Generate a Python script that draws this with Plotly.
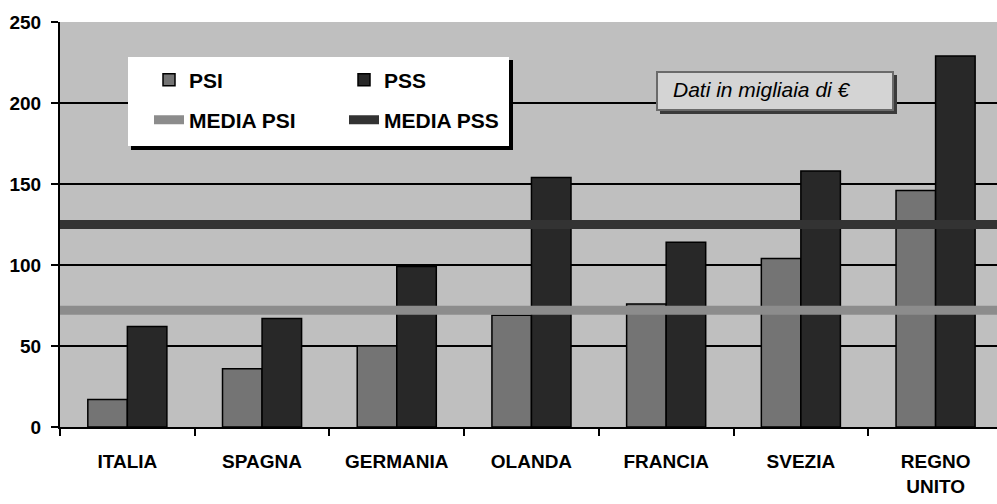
import plotly.graph_objects as go

categories = ["ITALIA", "SPAGNA", "GERMANIA", "OLANDA", "FRANCIA", "SVEZIA", "REGNO<br>UNITO"]
psi = [17, 36, 50, 69, 76, 104, 146]
pss = [62, 67, 99, 154, 114, 158, 229]
media_psi = 72
media_pss = 125
y_ticks = [0, 50, 100, 150, 200, 250]

W, H = 997, 504
L, R, T, B = 60, 0, 22, 77
PW, PH = W - L - R, H - T - B

def px_x(x):
    return (x - L) / PW

def px_y(y):
    return (H - B - y) / PH

fig = go.Figure()
fig.add_trace(go.Bar(x=categories, y=psi, name="PSI", marker=dict(color="#747474", line=dict(color="#000000", width=1.5)), legend="legend"))
fig.add_trace(go.Bar(x=categories, y=pss, name="PSS", marker=dict(color="#282828", line=dict(color="#000000", width=1.5)), legend="legend"))
fig.add_trace(go.Scatter(x=[0, 1], y=[media_psi, media_psi], xaxis="x2", mode="lines", name="MEDIA PSI",
                         line=dict(color="#8c8c8c", width=9), legend="legend2", hoverinfo="skip"))
fig.add_trace(go.Scatter(x=[0, 1], y=[media_pss, media_pss], xaxis="x2", mode="lines", name="MEDIA PSS",
                         line=dict(color="#333333", width=9), legend="legend2", hoverinfo="skip"))

shapes = []
# legend box shadow + box
lx0, lx1, ly0, ly1 = 128, 509, 57, 146
shapes.append(dict(type="rect", xref="paper", yref="paper", x0=px_x(lx0 + 3), x1=px_x(lx1 + 4), y0=px_y(ly1 + 4), y1=px_y(ly0 + 3),
                   fillcolor="#000000", line=dict(width=0), layer="above"))
shapes.append(dict(type="rect", xref="paper", yref="paper", x0=px_x(lx0), x1=px_x(lx1), y0=px_y(ly1), y1=px_y(ly0),
                   fillcolor="#ffffff", line=dict(width=0), layer="above"))
# note box shadow + box
nx0, nx1, ny0, ny1 = 657, 893, 72, 110
shapes.append(dict(type="rect", xref="paper", yref="paper", x0=px_x(nx0 + 3), x1=px_x(nx1 + 4), y0=px_y(ny1 + 4), y1=px_y(ny0 + 3),
                   fillcolor="#3a3a3a", line=dict(width=0), layer="above"))
shapes.append(dict(type="rect", xref="paper", yref="paper", x0=px_x(nx0), x1=px_x(nx1), y0=px_y(ny1), y1=px_y(ny0),
                   fillcolor="#d4d4d4", line=dict(color="#6a6a6a", width=2), layer="above"))

fig.update_layout(
    width=W, height=H,
    margin=dict(l=L, r=R, t=T, b=B, pad=0),
    paper_bgcolor="#ffffff",
    plot_bgcolor="#bfbfbf",
    barmode="group", bargap=0.413, bargroupgap=0,
    font=dict(family="Liberation Sans, Arial, sans-serif", color="#000000", weight="bold"),
    shapes=shapes,
    annotations=[dict(text="<i>Dati in migliaia di €</i>", xref="paper", yref="paper", x=px_x(762), y=px_y(90),
                      xanchor="center", yanchor="middle", showarrow=False,
                      font=dict(family="Liberation Sans, Arial, sans-serif", size=21, color="#000000", weight="normal"))],
    xaxis=dict(range=[-0.5, 6.456], tickson="boundaries", ticks="outside", ticklen=7, tickwidth=2, tickcolor="#000000",
               showline=True, linecolor="#000000", linewidth=2, showgrid=False,
               tickfont=dict(family="Liberation Sans, Arial, sans-serif", size=19, weight="bold"),
               ticklabelstandoff=16),
    xaxis2=dict(overlaying="x", range=[0, 1], visible=False, fixedrange=True),
    yaxis=dict(range=[0, 250], tickvals=y_ticks, ticks="outside", ticklen=7, tickwidth=2, tickcolor="#000000",
               showline=True, linecolor="#000000", linewidth=2, showgrid=True, gridcolor="#000000", gridwidth=2,
               zeroline=False, tickfont=dict(size=19, weight="bold"), ticklabelstandoff=6),
    legend=dict(orientation="h", x=px_x(lx0 + 21), y=px_y(80), xanchor="left", yanchor="middle",
                bgcolor="rgba(0,0,0,0)", borderwidth=0, entrywidth=150, entrywidthmode="pixels",
                font=dict(family="Liberation Sans, Arial, sans-serif", size=21, weight="bold"),
                itemclick=False, itemdoubleclick=False),
    legend2=dict(orientation="h", x=px_x(lx0 + 21), y=px_y(120), xanchor="left", yanchor="middle",
                 bgcolor="rgba(0,0,0,0)", borderwidth=0, entrywidth=150, entrywidthmode="pixels",
                 font=dict(family="Liberation Sans, Arial, sans-serif", size=21, weight="bold"),
                 itemclick=False, itemdoubleclick=False),
    showlegend=True,
)

fig.write_html("out.html", config={"displayModeBar": False},
               post_script="document.body.style.margin='0px';document.body.style.overflow='hidden';")
